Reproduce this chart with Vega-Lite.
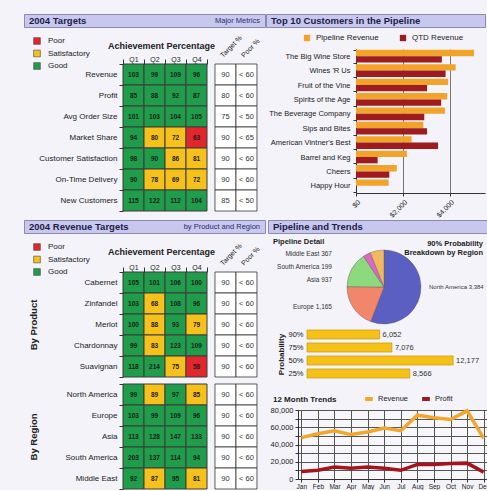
{
  "$schema": "https://vega.github.io/schema/vega-lite/v6.json",
  "background": "#f3f3f9",
  "padding": {"left": 23, "top": 13, "right": 0, "bottom": 0},
  "config": {
    "font": "Liberation Sans",
    "view": {"stroke": null},
    "axis": {"labelColor": "#222222", "titleColor": "#222222", "domainColor": "#333333", "tickColor": "#333333", "labelFontSize": 8},
    "legend": {"labelColor": "#222222"},
    "title": {"color": "#1c1c48"}
  },
  "datasets": {
    "blank": [{}],
    "targetsHeat": [
      {"metric": "Revenue", "quarter": "Q1", "pct": 103, "rating": "Good"},
      {"metric": "Revenue", "quarter": "Q2", "pct": 99, "rating": "Good"},
      {"metric": "Revenue", "quarter": "Q3", "pct": 109, "rating": "Good"},
      {"metric": "Revenue", "quarter": "Q4", "pct": 96, "rating": "Good"},
      {"metric": "Profit", "quarter": "Q1", "pct": 85, "rating": "Good"},
      {"metric": "Profit", "quarter": "Q2", "pct": 88, "rating": "Good"},
      {"metric": "Profit", "quarter": "Q3", "pct": 92, "rating": "Good"},
      {"metric": "Profit", "quarter": "Q4", "pct": 87, "rating": "Good"},
      {"metric": "Avg Order Size", "quarter": "Q1", "pct": 101, "rating": "Good"},
      {"metric": "Avg Order Size", "quarter": "Q2", "pct": 103, "rating": "Good"},
      {"metric": "Avg Order Size", "quarter": "Q3", "pct": 104, "rating": "Good"},
      {"metric": "Avg Order Size", "quarter": "Q4", "pct": 105, "rating": "Good"},
      {"metric": "Market Share", "quarter": "Q1", "pct": 94, "rating": "Good"},
      {"metric": "Market Share", "quarter": "Q2", "pct": 80, "rating": "Satisfactory"},
      {"metric": "Market Share", "quarter": "Q3", "pct": 72, "rating": "Satisfactory"},
      {"metric": "Market Share", "quarter": "Q4", "pct": 63, "rating": "Poor"},
      {"metric": "Customer Satisfaction", "quarter": "Q1", "pct": 98, "rating": "Good"},
      {"metric": "Customer Satisfaction", "quarter": "Q2", "pct": 90, "rating": "Good"},
      {"metric": "Customer Satisfaction", "quarter": "Q3", "pct": 86, "rating": "Satisfactory"},
      {"metric": "Customer Satisfaction", "quarter": "Q4", "pct": 81, "rating": "Satisfactory"},
      {"metric": "On-Time Delivery", "quarter": "Q1", "pct": 90, "rating": "Good"},
      {"metric": "On-Time Delivery", "quarter": "Q2", "pct": 78, "rating": "Satisfactory"},
      {"metric": "On-Time Delivery", "quarter": "Q3", "pct": 69, "rating": "Satisfactory"},
      {"metric": "On-Time Delivery", "quarter": "Q4", "pct": 72, "rating": "Satisfactory"},
      {"metric": "New Customers", "quarter": "Q1", "pct": 115, "rating": "Good"},
      {"metric": "New Customers", "quarter": "Q2", "pct": 122, "rating": "Good"},
      {"metric": "New Customers", "quarter": "Q3", "pct": 112, "rating": "Good"},
      {"metric": "New Customers", "quarter": "Q4", "pct": 104, "rating": "Good"}
    ],
    "targetsTable": [
      {"metric": "Revenue", "col": "Target %", "val": "90"},
      {"metric": "Revenue", "col": "Poor %", "val": "< 60"},
      {"metric": "Profit", "col": "Target %", "val": "80"},
      {"metric": "Profit", "col": "Poor %", "val": "< 60"},
      {"metric": "Avg Order Size", "col": "Target %", "val": "75"},
      {"metric": "Avg Order Size", "col": "Poor %", "val": "< 50"},
      {"metric": "Market Share", "col": "Target %", "val": "90"},
      {"metric": "Market Share", "col": "Poor %", "val": "< 65"},
      {"metric": "Customer Satisfaction", "col": "Target %", "val": "90"},
      {"metric": "Customer Satisfaction", "col": "Poor %", "val": "< 60"},
      {"metric": "On-Time Delivery", "col": "Target %", "val": "90"},
      {"metric": "On-Time Delivery", "col": "Poor %", "val": "< 60"},
      {"metric": "New Customers", "col": "Target %", "val": "85"},
      {"metric": "New Customers", "col": "Poor %", "val": "< 50"}
    ],
    "revHeat": [
      {"group": "Product", "item": "Cabernet", "quarter": "Q1", "pct": 105, "rating": "Good"},
      {"group": "Product", "item": "Cabernet", "quarter": "Q2", "pct": 101, "rating": "Good"},
      {"group": "Product", "item": "Cabernet", "quarter": "Q3", "pct": 106, "rating": "Good"},
      {"group": "Product", "item": "Cabernet", "quarter": "Q4", "pct": 100, "rating": "Good"},
      {"group": "Product", "item": "Zinfandel", "quarter": "Q1", "pct": 103, "rating": "Good"},
      {"group": "Product", "item": "Zinfandel", "quarter": "Q2", "pct": 68, "rating": "Satisfactory"},
      {"group": "Product", "item": "Zinfandel", "quarter": "Q3", "pct": 108, "rating": "Good"},
      {"group": "Product", "item": "Zinfandel", "quarter": "Q4", "pct": 96, "rating": "Good"},
      {"group": "Product", "item": "Merlot", "quarter": "Q1", "pct": 100, "rating": "Good"},
      {"group": "Product", "item": "Merlot", "quarter": "Q2", "pct": 88, "rating": "Satisfactory"},
      {"group": "Product", "item": "Merlot", "quarter": "Q3", "pct": 93, "rating": "Good"},
      {"group": "Product", "item": "Merlot", "quarter": "Q4", "pct": 79, "rating": "Satisfactory"},
      {"group": "Product", "item": "Chardonnay", "quarter": "Q1", "pct": 99, "rating": "Good"},
      {"group": "Product", "item": "Chardonnay", "quarter": "Q2", "pct": 83, "rating": "Satisfactory"},
      {"group": "Product", "item": "Chardonnay", "quarter": "Q3", "pct": 123, "rating": "Good"},
      {"group": "Product", "item": "Chardonnay", "quarter": "Q4", "pct": 109, "rating": "Good"},
      {"group": "Product", "item": "Suavignan", "quarter": "Q1", "pct": 118, "rating": "Good"},
      {"group": "Product", "item": "Suavignan", "quarter": "Q2", "pct": 214, "rating": "Good"},
      {"group": "Product", "item": "Suavignan", "quarter": "Q3", "pct": 75, "rating": "Satisfactory"},
      {"group": "Product", "item": "Suavignan", "quarter": "Q4", "pct": 58, "rating": "Poor"},
      {"group": "Region", "item": "North America", "quarter": "Q1", "pct": 99, "rating": "Good"},
      {"group": "Region", "item": "North America", "quarter": "Q2", "pct": 89, "rating": "Satisfactory"},
      {"group": "Region", "item": "North America", "quarter": "Q3", "pct": 97, "rating": "Good"},
      {"group": "Region", "item": "North America", "quarter": "Q4", "pct": 85, "rating": "Satisfactory"},
      {"group": "Region", "item": "Europe", "quarter": "Q1", "pct": 103, "rating": "Good"},
      {"group": "Region", "item": "Europe", "quarter": "Q2", "pct": 99, "rating": "Good"},
      {"group": "Region", "item": "Europe", "quarter": "Q3", "pct": 109, "rating": "Good"},
      {"group": "Region", "item": "Europe", "quarter": "Q4", "pct": 96, "rating": "Good"},
      {"group": "Region", "item": "Asia", "quarter": "Q1", "pct": 113, "rating": "Good"},
      {"group": "Region", "item": "Asia", "quarter": "Q2", "pct": 128, "rating": "Good"},
      {"group": "Region", "item": "Asia", "quarter": "Q3", "pct": 147, "rating": "Good"},
      {"group": "Region", "item": "Asia", "quarter": "Q4", "pct": 133, "rating": "Good"},
      {"group": "Region", "item": "South America", "quarter": "Q1", "pct": 203, "rating": "Good"},
      {"group": "Region", "item": "South America", "quarter": "Q2", "pct": 137, "rating": "Good"},
      {"group": "Region", "item": "South America", "quarter": "Q3", "pct": 114, "rating": "Good"},
      {"group": "Region", "item": "South America", "quarter": "Q4", "pct": 94, "rating": "Good"},
      {"group": "Region", "item": "Middle East", "quarter": "Q1", "pct": 92, "rating": "Good"},
      {"group": "Region", "item": "Middle East", "quarter": "Q2", "pct": 87, "rating": "Satisfactory"},
      {"group": "Region", "item": "Middle East", "quarter": "Q3", "pct": 95, "rating": "Good"},
      {"group": "Region", "item": "Middle East", "quarter": "Q4", "pct": 81, "rating": "Satisfactory"}
    ],
    "revTable": [
      {"group": "Product", "item": "Cabernet", "col": "Target %", "val": "90"},
      {"group": "Product", "item": "Cabernet", "col": "Poor %", "val": "< 60"},
      {"group": "Product", "item": "Zinfandel", "col": "Target %", "val": "90"},
      {"group": "Product", "item": "Zinfandel", "col": "Poor %", "val": "< 60"},
      {"group": "Product", "item": "Merlot", "col": "Target %", "val": "90"},
      {"group": "Product", "item": "Merlot", "col": "Poor %", "val": "< 60"},
      {"group": "Product", "item": "Chardonnay", "col": "Target %", "val": "90"},
      {"group": "Product", "item": "Chardonnay", "col": "Poor %", "val": "< 60"},
      {"group": "Product", "item": "Suavignan", "col": "Target %", "val": "90"},
      {"group": "Product", "item": "Suavignan", "col": "Poor %", "val": "< 60"},
      {"group": "Region", "item": "North America", "col": "Target %", "val": "90"},
      {"group": "Region", "item": "North America", "col": "Poor %", "val": "< 60"},
      {"group": "Region", "item": "Europe", "col": "Target %", "val": "90"},
      {"group": "Region", "item": "Europe", "col": "Poor %", "val": "< 60"},
      {"group": "Region", "item": "Asia", "col": "Target %", "val": "90"},
      {"group": "Region", "item": "Asia", "col": "Poor %", "val": "< 60"},
      {"group": "Region", "item": "South America", "col": "Target %", "val": "90"},
      {"group": "Region", "item": "South America", "col": "Poor %", "val": "< 60"},
      {"group": "Region", "item": "Middle East", "col": "Target %", "val": "90"},
      {"group": "Region", "item": "Middle East", "col": "Poor %", "val": "< 60"}
    ],
    "customers": [
      {"customer": "The Big Wine Store", "series": "Pipeline Revenue", "amount": 5030},
      {"customer": "The Big Wine Store", "series": "QTD Revenue", "amount": 3660},
      {"customer": "Wines 'R Us", "series": "Pipeline Revenue", "amount": 4250},
      {"customer": "Wines 'R Us", "series": "QTD Revenue", "amount": 3820},
      {"customer": "Fruit of the Vine", "series": "Pipeline Revenue", "amount": 3930},
      {"customer": "Fruit of the Vine", "series": "QTD Revenue", "amount": 3030},
      {"customer": "Spirits of the Age", "series": "Pipeline Revenue", "amount": 3890},
      {"customer": "Spirits of the Age", "series": "QTD Revenue", "amount": 3630},
      {"customer": "The Beverage Company", "series": "Pipeline Revenue", "amount": 3790},
      {"customer": "The Beverage Company", "series": "QTD Revenue", "amount": 2910},
      {"customer": "Sips and Bites", "series": "Pipeline Revenue", "amount": 2870},
      {"customer": "Sips and Bites", "series": "QTD Revenue", "amount": 3030},
      {"customer": "American Vintner's Best", "series": "Pipeline Revenue", "amount": 2370},
      {"customer": "American Vintner's Best", "series": "QTD Revenue", "amount": 3500},
      {"customer": "Barrel and Keg", "series": "Pipeline Revenue", "amount": 2170},
      {"customer": "Barrel and Keg", "series": "QTD Revenue", "amount": 920},
      {"customer": "Cheers", "series": "Pipeline Revenue", "amount": 1740},
      {"customer": "Cheers", "series": "QTD Revenue", "amount": 1420},
      {"customer": "Happy Hour", "series": "Pipeline Revenue", "amount": 1390}
    ],
    "pie": [
      {"region": "North America", "value": 3384},
      {"region": "Europe", "value": 1165},
      {"region": "Asia", "value": 937},
      {"region": "South America", "value": 199},
      {"region": "Middle East", "value": 367}
    ],
    "prob": [
      {"prob": "90%", "amount": 6052},
      {"prob": "75%", "amount": 7076},
      {"prob": "50%", "amount": 12177},
      {"prob": "25%", "amount": 8566}
    ],
    "trend": [
      {"month": "Jan", "series": "Revenue", "amount": 48000},
      {"month": "Feb", "series": "Revenue", "amount": 52500},
      {"month": "Mar", "series": "Revenue", "amount": 56000},
      {"month": "Apr", "series": "Revenue", "amount": 51500},
      {"month": "May", "series": "Revenue", "amount": 54500},
      {"month": "Jun", "series": "Revenue", "amount": 59000},
      {"month": "Jul", "series": "Revenue", "amount": 56000},
      {"month": "Aug", "series": "Revenue", "amount": 74000},
      {"month": "Sep", "series": "Revenue", "amount": 71000},
      {"month": "Oct", "series": "Revenue", "amount": 69000},
      {"month": "Nov", "series": "Revenue", "amount": 79000},
      {"month": "Dec", "series": "Revenue", "amount": 47000},
      {"month": "Jan", "series": "Profit", "amount": 8600},
      {"month": "Feb", "series": "Profit", "amount": 10100},
      {"month": "Mar", "series": "Profit", "amount": 13900},
      {"month": "Apr", "series": "Profit", "amount": 12400},
      {"month": "May", "series": "Profit", "amount": 13900},
      {"month": "Jun", "series": "Profit", "amount": 12400},
      {"month": "Jul", "series": "Profit", "amount": 10100},
      {"month": "Aug", "series": "Profit", "amount": 16900},
      {"month": "Sep", "series": "Profit", "amount": 16900},
      {"month": "Oct", "series": "Profit", "amount": 18000},
      {"month": "Nov", "series": "Profit", "amount": 18400},
      {"month": "Dec", "series": "Profit", "amount": 8000}
    ]
  },
  "spacing": 0,
  "resolve": {"scale": {"color": "independent"}, "legend": {"color": "independent"}},
  "vconcat": [
    {
      "hconcat": [
        {
          "spacing": 0,
          "resolve": {"scale": {"color": "independent"}, "legend": {"color": "independent"}},
          "vconcat": [
            {
              "width": 241, "height": 13,
              "view": {"fill": "#c8c7ee", "stroke": "#8a88b8", "strokeWidth": 1},
              "data": {"values": [{"title": "2004 Targets", "note": "Major Metrics"}]},
              "layer": [
                {"mark": {"type": "text", "align": "left", "dx": 5, "fontSize": 9.5, "fontWeight": "bold", "color": "#1c1c48"},
                 "encoding": {"x": {"datum": 0, "type": "quantitative", "scale": {"domain": [0, 1]}, "axis": null}, "text": {"field": "title"}}},
                {"mark": {"type": "text", "align": "right", "dx": -5, "fontSize": 7.5, "color": "#2a2a70"},
                 "encoding": {"x": {"datum": 1, "type": "quantitative", "scale": {"domain": [0, 1]}, "axis": null}, "text": {"field": "note"}}}
              ]
            },
            {
              "bounds": "flush",
              "spacing": 0,
              "resolve": {"scale": {"color": "independent"}, "legend": {"color": "independent"}},
              "hconcat": [
                {"width": 99, "height": 10, "data": {"name": "blank"}, "mark": {"type": "point", "opacity": 0}, "encoding": {}},
                {
                  "width": 126, "height": 147,
                  "resolve": {"axis": {"x": "independent"}},
                  "layer": [
                    {
                      "data": {"name": "targetsHeat"},
                      "mark": {"type": "rect", "stroke": "#3d3d3d", "strokeWidth": 1},
                      "encoding": {
                        "x": {"field": "quarter", "type": "nominal",
                          "scale": {"domain": ["Q1", "Q2", "Q3", "Q4", "Target %", "Poor %"], "paddingInner": 0, "paddingOuter": 0},
                          "axis": {"orient": "top", "values": ["Q1", "Q2", "Q3", "Q4"], "labelAngle": 0, "labelFontSize": 7, "labelPadding": -3, "tickBand": "extent", "tickSize": 5, "domain": false,
                            "title": "Achievement Percentage", "titleFontSize": 9, "titleFontWeight": "bold", "titleX": 38, "titleY": -19, "titleBaseline": "middle", "titleAlign": "center"}},
                        "y": {"field": "metric", "type": "nominal",
                          "scale": {"domain": ["Revenue", "Profit", "Avg Order Size", "Market Share", "Customer Satisfaction", "On-Time Delivery", "New Customers"], "paddingInner": 0, "paddingOuter": 0},
                          "axis": {"title": null, "labelFontSize": 8, "tickBand": "extent", "tickSize": 4, "labelPadding": 2, "domain": false}},
                        "color": {"field": "rating", "type": "nominal",
                          "scale": {"domain": ["Poor", "Satisfactory", "Good"], "range": ["#e2262e", "#f5c11a", "#1f9d4b"]},
                          "legend": {"orient": "none", "direction": "vertical", "legendX": -99, "legendY": -36, "padding": 9, "title": null, "symbolType": "square", "symbolSize": 45, "symbolStrokeColor": "#444444", "symbolStrokeWidth": 0.6, "labelFontSize": 8, "rowPadding": 2.5, "labelOffset": 7}}
                      }
                    },
                    {
                      "data": {"name": "targetsHeat"},
                      "mark": {"type": "text", "fontSize": 6.5, "fontWeight": "bold", "color": "#1a1a1a"},
                      "encoding": {
                        "x": {"field": "quarter", "type": "nominal", "axis": null},
                        "y": {"field": "metric", "type": "nominal"},
                        "text": {"field": "pct"}
                      }
                    },
                    {
                      "data": {"name": "targetsTable"},
                      "mark": {"type": "rect", "fill": "#ffffff", "stroke": "#333333", "strokeWidth": 0.8},
                      "encoding": {
                        "x": {"field": "col", "type": "nominal", "bandPosition": 0.38,
                          "axis": {"orient": "top", "values": ["Target %", "Poor %"], "labelAngle": -45, "labelAlign": "left", "labelBaseline": "middle", "labelPadding": 8, "labelOffset": 4, "ticks": false, "domain": false, "title": null, "labelFontSize": 7, "labelOverlap": false}},
                        "x2": {"field": "col", "bandPosition": 1.38},
                        "y": {"field": "metric", "type": "nominal"}
                      }
                    },
                    {
                      "data": {"name": "targetsTable"},
                      "mark": {"type": "text", "fontSize": 7.5, "color": "#333333"},
                      "encoding": {
                        "x": {"field": "col", "type": "nominal", "bandPosition": 0.88, "axis": null},
                        "y": {"field": "metric", "type": "nominal"},
                        "text": {"field": "val"}
                      }
                    }
                  ]
                }
              ]
            }
          ]
        },
        {
          "spacing": 0,
          "resolve": {"scale": {"color": "independent"}, "legend": {"color": "independent"}},
          "vconcat": [
            {
              "width": 219, "height": 13,
              "view": {"fill": "#c8c7ee", "stroke": "#8a88b8", "strokeWidth": 1},
              "data": {"values": [{"title": "Top 10 Customers in the Pipeline"}]},
              "mark": {"type": "text", "align": "left", "dx": 5, "fontSize": 9.5, "fontWeight": "bold", "color": "#1c1c48"},
              "encoding": {"x": {"datum": 0, "type": "quantitative", "scale": {"domain": [0, 1]}, "axis": null}, "text": {"field": "title"}}
            },
            {
              "bounds": "flush",
              "spacing": 0,
              "resolve": {"scale": {"color": "independent"}, "legend": {"color": "independent"}},
              "hconcat": [
                {"width": 90, "height": 10, "data": {"name": "blank"}, "mark": {"type": "point", "opacity": 0}, "encoding": {}},
                {
                  "width": 129, "height": 144,
                  "data": {"name": "customers"},
                  "mark": {"type": "bar"},
                  "encoding": {
                    "y": {"field": "customer", "type": "nominal", "sort": null,
                      "scale": {"paddingInner": 0.12, "paddingOuter": 0.06},
                      "axis": {"title": null, "labelFontSize": 7.5, "tickBand": "extent", "tickSize": 3, "labelPadding": 3}},
                    "yOffset": {"field": "series", "type": "nominal", "sort": ["Pipeline Revenue", "QTD Revenue"]},
                    "x": {"field": "amount", "type": "quantitative", "scale": {"domain": [0, 5500], "nice": false},
                      "axis": {"values": [0, 2000, 4000], "format": "$,.0f", "labelAngle": -45, "labelFontSize": 7, "grid": true, "gridColor": "#777777", "title": null, "tickSize": 3, "labelPadding": 2}},
                    "color": {"field": "series", "type": "nominal",
                      "scale": {"domain": ["Pipeline Revenue", "QTD Revenue"], "range": ["#f2a42a", "#9e1b20"]},
                      "legend": {"orient": "none", "direction": "horizontal", "legendX": -59, "legendY": -21, "padding": 6, "title": null, "symbolType": "square", "symbolSize": 40, "labelFontSize": 8, "columnPadding": 20, "labelOffset": 5}}
                  }
                }
              ]
            }
          ]
        }
      ],
      "spacing": -5,
      "resolve": {"scale": {"color": "independent"}, "legend": {"color": "independent"}}
    },
    {
      "hconcat": [
        {
          "spacing": 0,
          "resolve": {"scale": {"color": "independent"}, "legend": {"color": "independent"}},
          "vconcat": [
            {
              "width": 241, "height": 13,
              "view": {"fill": "#c8c7ee", "stroke": "#8a88b8", "strokeWidth": 1},
              "data": {"values": [{"title": "2004 Revenue Targets", "note": "by Product and Region"}]},
              "layer": [
                {"mark": {"type": "text", "align": "left", "dx": 5, "fontSize": 9.5, "fontWeight": "bold", "color": "#1c1c48"},
                 "encoding": {"x": {"datum": 0, "type": "quantitative", "scale": {"domain": [0, 1]}, "axis": null}, "text": {"field": "title"}}},
                {"mark": {"type": "text", "align": "right", "dx": -5, "fontSize": 7.5, "color": "#2a2a70"},
                 "encoding": {"x": {"datum": 1, "type": "quantitative", "scale": {"domain": [0, 1]}, "axis": null}, "text": {"field": "note"}}}
              ]
            },
            {
              "bounds": "flush",
              "spacing": 0,
              "resolve": {"scale": {"color": "independent"}, "legend": {"color": "independent"}},
              "hconcat": [
                {"width": 99, "height": 10, "data": {"name": "blank"}, "mark": {"type": "point", "opacity": 0}, "encoding": {}},
                {
                  "spacing": 7,
                  "bounds": "flush",
                  "resolve": {"scale": {"color": "independent"}, "legend": {"color": "independent"}},
                  "vconcat": [
                    {
                      "width": 126, "height": 105,
                      "resolve": {"axis": {"x": "independent"}},
                      "layer": [
                        {
                          "data": {"name": "revHeat"},
                          "transform": [{"filter": "datum.group === 'Product'"}],
                          "mark": {"type": "rect", "stroke": "#3d3d3d", "strokeWidth": 1},
                          "encoding": {
                            "x": {"field": "quarter", "type": "nominal",
                              "scale": {"domain": ["Q1", "Q2", "Q3", "Q4", "Target %", "Poor %"], "paddingInner": 0, "paddingOuter": 0},
                              "axis": {"orient": "top", "values": ["Q1", "Q2", "Q3", "Q4"], "labelAngle": 0, "labelFontSize": 7, "labelPadding": -3, "tickBand": "extent", "tickSize": 5, "domain": false,
                                "title": "Achievement Percentage", "titleFontSize": 9, "titleFontWeight": "bold", "titleX": 38, "titleY": -21, "titleBaseline": "middle", "titleAlign": "center"}},
                            "y": {"field": "item", "type": "nominal",
                              "scale": {"domain": ["Cabernet", "Zinfandel", "Merlot", "Chardonnay", "Suavignan"], "paddingInner": 0, "paddingOuter": 0},
                              "axis": {"title": "By Product", "titleX": -85, "titleFontSize": 9.5, "titleFontWeight": "bold", "labelFontSize": 8, "tickBand": "extent", "tickSize": 4, "labelPadding": 2, "domain": false}},
                            "color": {"field": "rating", "type": "nominal",
                              "scale": {"domain": ["Poor", "Satisfactory", "Good"], "range": ["#e2262e", "#f5c11a", "#1f9d4b"]},
                              "legend": {"orient": "none", "direction": "vertical", "legendX": -99, "legendY": -38, "padding": 9, "title": null, "symbolType": "square", "symbolSize": 45, "symbolStrokeColor": "#444444", "symbolStrokeWidth": 0.6, "labelFontSize": 8, "rowPadding": 2.5, "labelOffset": 7}}
                          }
                        },
                        {
                          "data": {"name": "revHeat"},
                          "transform": [{"filter": "datum.group === 'Product'"}],
                          "mark": {"type": "text", "fontSize": 6.5, "fontWeight": "bold", "color": "#1a1a1a"},
                          "encoding": {
                            "x": {"field": "quarter", "type": "nominal", "axis": null},
                            "y": {"field": "item", "type": "nominal"},
                            "text": {"field": "pct"}
                          }
                        },
                        {
                          "data": {"name": "revTable"},
                          "transform": [{"filter": "datum.group === 'Product'"}],
                          "mark": {"type": "rect", "fill": "#ffffff", "stroke": "#333333", "strokeWidth": 0.8},
                          "encoding": {
                            "x": {"field": "col", "type": "nominal", "bandPosition": 0.38,
                              "axis": {"orient": "top", "values": ["Target %", "Poor %"], "labelAngle": -45, "labelAlign": "left", "labelBaseline": "middle", "labelPadding": 8, "labelOffset": 4, "ticks": false, "domain": false, "title": null, "labelFontSize": 7, "labelOverlap": false}},
                            "x2": {"field": "col", "bandPosition": 1.38},
                            "y": {"field": "item", "type": "nominal"}
                          }
                        },
                        {
                          "data": {"name": "revTable"},
                          "transform": [{"filter": "datum.group === 'Product'"}],
                          "mark": {"type": "text", "fontSize": 7.5, "color": "#333333"},
                          "encoding": {
                            "x": {"field": "col", "type": "nominal", "bandPosition": 0.88, "axis": null},
                            "y": {"field": "item", "type": "nominal"},
                            "text": {"field": "val"}
                          }
                        }
                      ]
                    },
                    {
                      "width": 126, "height": 105,
                      "layer": [
                        {
                          "data": {"name": "revHeat"},
                          "transform": [{"filter": "datum.group === 'Region'"}],
                          "mark": {"type": "rect", "stroke": "#3d3d3d", "strokeWidth": 1},
                          "encoding": {
                            "x": {"field": "quarter", "type": "nominal",
                              "scale": {"domain": ["Q1", "Q2", "Q3", "Q4", "Target %", "Poor %"], "paddingInner": 0, "paddingOuter": 0},
                              "axis": null},
                            "y": {"field": "item", "type": "nominal",
                              "scale": {"domain": ["North America", "Europe", "Asia", "South America", "Middle East"], "paddingInner": 0, "paddingOuter": 0},
                              "axis": {"title": "By Region", "titleX": -85, "titleFontSize": 9.5, "titleFontWeight": "bold", "labelFontSize": 8, "tickBand": "extent", "tickSize": 4, "labelPadding": 2, "domain": false}},
                            "color": {"field": "rating", "type": "nominal",
                              "scale": {"domain": ["Poor", "Satisfactory", "Good"], "range": ["#e2262e", "#f5c11a", "#1f9d4b"]},
                              "legend": null}
                          }
                        },
                        {
                          "data": {"name": "revHeat"},
                          "transform": [{"filter": "datum.group === 'Region'"}],
                          "mark": {"type": "text", "fontSize": 6.5, "fontWeight": "bold", "color": "#1a1a1a"},
                          "encoding": {
                            "x": {"field": "quarter", "type": "nominal"},
                            "y": {"field": "item", "type": "nominal"},
                            "text": {"field": "pct"}
                          }
                        },
                        {
                          "data": {"name": "revTable"},
                          "transform": [{"filter": "datum.group === 'Region'"}],
                          "mark": {"type": "rect", "fill": "#ffffff", "stroke": "#333333", "strokeWidth": 0.8},
                          "encoding": {
                            "x": {"field": "col", "type": "nominal", "bandPosition": 0.38},
                            "x2": {"field": "col", "bandPosition": 1.38},
                            "y": {"field": "item", "type": "nominal"}
                          }
                        },
                        {
                          "data": {"name": "revTable"},
                          "transform": [{"filter": "datum.group === 'Region'"}],
                          "mark": {"type": "text", "fontSize": 7.5, "color": "#333333"},
                          "encoding": {
                            "x": {"field": "col", "type": "nominal", "bandPosition": 0.88},
                            "y": {"field": "item", "type": "nominal"},
                            "text": {"field": "val"}
                          }
                        }
                      ]
                    }
                  ]
                }
              ]
            }
          ]
        },
        {
          "spacing": 3,
          "resolve": {"scale": {"color": "independent"}, "legend": {"color": "independent"}},
          "vconcat": [
            {
              "width": 219, "height": 13,
              "view": {"fill": "#c8c7ee", "stroke": "#8a88b8", "strokeWidth": 1},
              "data": {"values": [{"title": "Pipeline and Trends"}]},
              "mark": {"type": "text", "align": "left", "dx": 5, "fontSize": 9.5, "fontWeight": "bold", "color": "#1c1c48"},
              "encoding": {"x": {"datum": 0, "type": "quantitative", "scale": {"domain": [0, 1]}, "axis": null}, "text": {"field": "title"}}
            },
            {
              "spacing": 1,
              "resolve": {"scale": {"color": "independent"}, "legend": {"color": "independent"}},
              "vconcat": [
                {
                  "hconcat": [
                    {
                      "width": 72, "height": 80,
                      "title": {"text": "Pipeline Detail", "anchor": "start", "frame": "group", "fontSize": 7.5, "fontWeight": "bold", "offset": 2, "dx": 5, "color": "#1c1c1c"},
                      "data": {"name": "pie"},
                      "transform": [
                        {"filter": "datum.region !== 'North America'"},
                        {"calculate": "datum.region + ' ' + format(datum.value, ',')", "as": "label"}
                      ],
                      "mark": {"type": "text", "align": "right", "dx": -8, "fontSize": 6.5, "color": "#333333"},
                      "encoding": {
                        "x": {"datum": 1, "type": "quantitative", "scale": {"domain": [0, 1]}, "axis": null},
                        "y": {"field": "region", "type": "nominal", "scale": {"domain": ["Middle East", "South America", "Asia", " ", "Europe", "  "]}, "axis": null},
                        "text": {"field": "label"}
                      }
                    },
                    {
                      "width": 80, "height": 80,
                      "data": {"name": "pie"},
                      "transform": [{"window": [{"op": "row_number", "as": "ord"}]}],
                      "mark": {"type": "arc", "outerRadius": 37, "stroke": "#555555", "strokeWidth": 0.4},
                      "encoding": {
                        "theta": {"field": "value", "type": "quantitative", "stack": true},
                        "order": {"field": "ord", "type": "quantitative"},
                        "color": {"field": "region", "type": "nominal",
                          "scale": {"domain": ["North America", "Europe", "Asia", "South America", "Middle East"], "range": ["#5b5fc2", "#f2866a", "#8cd97e", "#e066c6", "#f0b860"]},
                          "legend": null}
                      }
                    },
                    {
                      "width": 55, "height": 80,
                      "title": {"text": ["90% Probability", "Breakdown by Region"], "anchor": "end", "frame": "group", "fontSize": 7.5, "fontWeight": "bold", "lineHeight": 9, "offset": 0, "dy": 9, "color": "#1c1c1c"},
                      "data": {"name": "pie"},
                      "transform": [
                        {"filter": "datum.region === 'North America'"},
                        {"calculate": "datum.region + ' ' + format(datum.value, ',')", "as": "label"}
                      ],
                      "mark": {"type": "text", "align": "left", "dx": 1, "fontSize": 6, "color": "#333333"},
                      "encoding": {
                        "x": {"datum": 0, "type": "quantitative", "scale": {"domain": [0, 1]}, "axis": null},
                        "text": {"field": "label"}
                      }
                    }
                  ],
                  "spacing": 4,
                  "bounds": "flush",
                  "resolve": {"scale": {"color": "independent"}, "legend": {"color": "independent"}}
                },
                {
                  "bounds": "flush",
                  "spacing": 0,
                  "hconcat": [
                    {"width": 39, "height": 10, "data": {"name": "blank"}, "mark": {"type": "point", "opacity": 0}, "encoding": {}},
                    {
                      "width": 180, "height": 52,
                      "data": {"name": "prob"},
                      "encoding": {
                        "y": {"field": "prob", "type": "nominal", "sort": null,
                          "scale": {"paddingInner": 0.3, "paddingOuter": 0.15},
                          "axis": {"title": "Probability", "titleFontWeight": "bold", "titleFontSize": 8, "titleX": -22, "labelFontSize": 7.5, "ticks": false, "domain": false, "labelPadding": 4}},
                        "x": {"field": "amount", "type": "quantitative", "scale": {"domain": [0, 15000], "nice": false}, "axis": null}
                      },
                      "layer": [
                        {"mark": {"type": "bar", "color": "#f6c117", "stroke": "#b8900a", "strokeWidth": 0.6}},
                        {"mark": {"type": "text", "align": "left", "dx": 3, "fontSize": 7.5, "color": "#333333"},
                         "encoding": {"text": {"field": "amount", "type": "quantitative", "format": ","}}}
                      ]
                    }
                  ]
                },
                {
                  "bounds": "flush",
                  "spacing": 0,
                  "resolve": {"scale": {"color": "independent"}, "legend": {"color": "independent"}},
                  "hconcat": [
                    {"width": 30, "height": 10, "data": {"name": "blank"}, "mark": {"type": "point", "opacity": 0}, "encoding": {}},
                    {
                      "width": 189, "height": 69,
                      "view": {"fill": "#f7f7fb", "stroke": "#888888"},
                      "data": {"name": "trend"},
                      "mark": {"type": "line", "strokeWidth": 3.5},
                      "encoding": {
                        "x": {"field": "month", "type": "ordinal", "sort": null, "scale": {"type": "point", "padding": 0.2},
                          "axis": {"title": null, "grid": true, "gridColor": "#555555", "labelFontSize": 6.5, "labelAngle": 0, "tickSize": 3, "labelPadding": 1}},
                        "y": {"field": "amount", "type": "quantitative", "scale": {"domain": [0, 80000], "nice": false},
                          "axis": {"title": null, "values": [0, 10000, 20000, 30000, 40000, 50000, 60000, 70000, 80000], "labelExpr": "datum.value % 20000 === 0 ? datum.label : ''", "grid": true, "gridColor": "#555555", "labelFontSize": 7.5, "tickSize": 3, "labelPadding": 2}},
                        "color": {"field": "series", "type": "nominal", "sort": ["Revenue", "Profit"],
                          "scale": {"domain": ["Revenue", "Profit"], "range": ["#f3a62c", "#a3141c"]},
                          "legend": {"orient": "none", "direction": "horizontal", "legendX": -36, "legendY": -28, "padding": 11,
                            "title": "12 Month Trends", "titleOrient": "left", "titleFontSize": 8, "titleFontWeight": "bold", "titleColor": "#1c1c1c", "titlePadding": 26, "titleLimit": 120,
                            "symbolType": "stroke", "symbolStrokeWidth": 4, "symbolSize": 60, "labelFontSize": 7.5, "columnPadding": 5, "labelOffset": 3}}
                      }
                    }
                  ]
                }
              ]
            }
          ]
        }
      ],
      "spacing": -5,
      "resolve": {"scale": {"color": "independent"}, "legend": {"color": "independent"}}
    }
  ]
}
